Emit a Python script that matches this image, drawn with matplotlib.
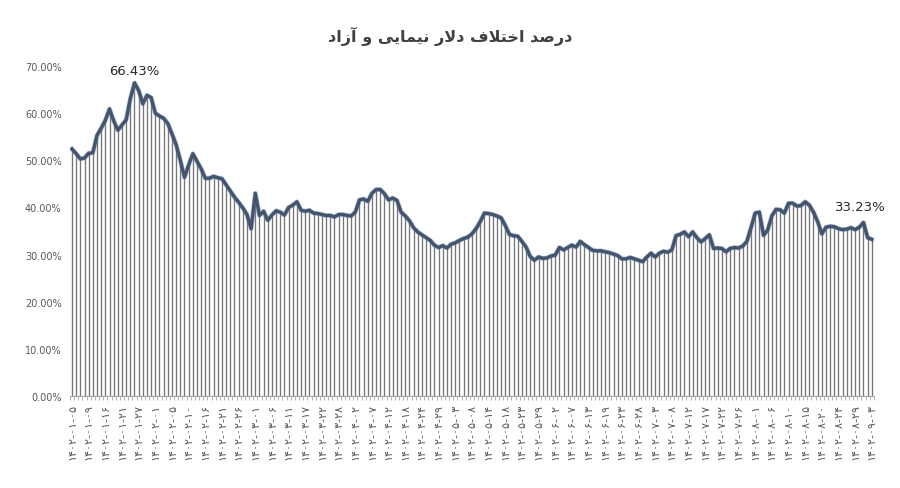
import numpy as np
import matplotlib.pyplot as plt
import matplotlib.patheffects as pe

# percentage gap, Nima dollar vs free dollar
gap_pct = [
    52.4, 51.4, 50.3, 50.5, 51.5, 51.6, 55.3, 56.8, 58.5, 60.9,
    58.4, 56.4, 57.5, 58.6, 63.1, 66.43, 64.8, 62.0, 63.8, 63.3,
    60.0, 59.4, 58.9, 57.8, 55.6, 53.3, 50.0, 46.4, 49.0, 51.4,
    49.8, 48.2, 46.2, 46.2, 46.6, 46.3, 46.1, 44.8, 43.5, 42.2,
    41.1, 39.9, 38.5, 35.5, 43.0, 38.3, 39.2, 37.3, 38.4, 39.3,
    39.0, 38.4, 40.0, 40.5, 41.2, 39.4, 39.2, 39.4, 38.8, 38.7,
    38.5, 38.3, 38.3, 38.0, 38.5, 38.5, 38.3, 38.2, 39.0, 41.6,
    41.8, 41.3, 43.0, 43.8, 43.8, 42.9, 41.6, 42.0, 41.5, 39.0,
    38.2, 37.2, 35.7, 34.8, 34.2, 33.6, 33.0, 32.0, 31.5, 31.9,
    31.4, 32.2, 32.5, 33.0, 33.4, 33.7, 34.4, 35.5, 37.0, 38.8,
    38.7, 38.5, 38.2, 37.8, 36.2, 34.3, 34.0, 33.9, 32.8, 31.6,
    29.6, 28.8, 29.5, 29.2, 29.3, 29.7, 29.9, 31.5, 31.0, 31.5,
    32.0, 31.6, 32.8, 32.1, 31.5, 30.9, 30.8, 30.8, 30.6, 30.4,
    30.1, 29.8, 29.1, 29.1, 29.4, 29.1, 28.8, 28.5, 29.5, 30.3,
    29.5, 30.3, 30.7, 30.5, 31.0, 34.0, 34.3, 34.8, 33.8, 34.8,
    33.6, 32.7, 33.4, 34.2, 31.3, 31.4, 31.3, 30.6, 31.3, 31.5,
    31.4, 31.8, 32.8, 35.7, 38.8, 39.0, 34.1, 35.2, 38.2, 39.6,
    39.5, 38.8, 40.9, 40.9, 40.3, 40.4, 41.2, 40.5, 39.0, 37.0,
    34.4, 35.8, 36.0, 35.9, 35.5, 35.3, 35.4, 35.7, 35.3, 35.8,
    36.8, 33.6, 33.23,
]

# one date label every 4th point (Persian calendar)
date_labels = [
    "۱۴۰۲-۰۱-۰۵", "۱۴۰۲-۰۱-۰۹", "۱۴۰۲-۰۱-۱۶", "۱۴۰۲-۰۱-۲۱", "۱۴۰۲-۰۱-۲۷",
    "۱۴۰۲-۰۲-۰۱", "۱۴۰۲-۰۲-۰۵", "۱۴۰۲-۰۲-۱۰", "۱۴۰۲-۰۲-۱۶", "۱۴۰۲-۰۲-۲۱",
    "۱۴۰۲-۰۲-۲۶", "۱۴۰۲-۰۳-۰۱", "۱۴۰۲-۰۳-۰۶", "۱۴۰۲-۰۳-۱۱", "۱۴۰۲-۰۳-۱۷",
    "۱۴۰۲-۰۳-۲۲", "۱۴۰۲-۰۳-۲۸", "۱۴۰۲-۰۴-۰۲", "۱۴۰۲-۰۴-۰۷", "۱۴۰۲-۰۴-۱۲",
    "۱۴۰۲-۰۴-۱۸", "۱۴۰۲-۰۴-۲۴", "۱۴۰۲-۰۴-۲۹", "۱۴۰۲-۰۵-۰۳", "۱۴۰۲-۰۵-۰۸",
    "۱۴۰۲-۰۵-۱۴", "۱۴۰۲-۰۵-۱۸", "۱۴۰۲-۰۵-۲۳", "۱۴۰۲-۰۵-۲۹", "۱۴۰۲-۰۶-۰۲",
    "۱۴۰۲-۰۶-۰۷", "۱۴۰۲-۰۶-۱۳", "۱۴۰۲-۰۶-۱۹", "۱۴۰۲-۰۶-۲۳", "۱۴۰۲-۰۶-۲۸",
    "۱۴۰۲-۰۷-۰۳", "۱۴۰۲-۰۷-۰۸", "۱۴۰۲-۰۷-۱۲", "۱۴۰۲-۰۷-۱۷", "۱۴۰۲-۰۷-۲۲",
    "۱۴۰۲-۰۷-۲۶", "۱۴۰۲-۰۸-۰۱", "۱۴۰۲-۰۸-۰۶", "۱۴۰۲-۰۸-۱۰", "۱۴۰۲-۰۸-۱۵",
    "۱۴۰۲-۰۸-۲۰", "۱۴۰۲-۰۸-۲۴", "۱۴۰۲-۰۸-۲۹", "۱۴۰۲-۰۹-۰۳",
]

# title "درصد اختلاف دلار نیمایی و آزاد" written in presentation forms,
# visual order, because matplotlib does no Arabic shaping
title_text = "ﺩﺍﺯﺁ ﻭ ﯽﯾﺎﻤﯿﻧ ﺭﻻﺩ ﻑﻼﺘﺧﺍ ﺪﺻﺭﺩ"

y = np.array(gap_pct)
x = np.arange(len(y))

fig = plt.figure(figsize=(9, 4.89), dpi=100)
ax = fig.add_axes([0.0777, 0.1881, 0.8933, 0.6748])

# drop lines
ax.vlines(x, 0, y, color="#767676", linewidth=0.95, zorder=1)
ax.plot(x, y, color="#44546A", linewidth=2.4, solid_joinstyle="round",
        zorder=3,
        path_effects=[pe.Stroke(linewidth=3.4, foreground="#5B7BB8", alpha=0.5),
                      pe.Normal()])

ax.set_xlim(-0.5, len(y) - 0.5)
ax.set_ylim(0, 70)
ax.set_yticks(np.arange(0, 71, 10))
ax.set_yticklabels([f"{v:.2f}%" for v in np.arange(0, 71, 10)])

ax.set_xticks(x[::4])
ax.set_xticklabels(date_labels, rotation=90, fontsize=8, color="#595959")
ax.set_xticks(np.arange(-0.5, len(y), 1), minor=True)
ax.tick_params(axis="x", which="major", length=0, pad=5)
ax.tick_params(axis="x", which="minor", length=3, color="#A6A6A6", width=0.6)
ax.tick_params(axis="y", length=0, labelsize=7, labelcolor="#595959", pad=6)

for s in ["top", "right", "left"]:
    ax.spines[s].set_visible(False)
ax.spines["bottom"].set_color("#A6A6A6")
ax.spines["bottom"].set_linewidth(0.8)

# data labels for peak and last value
i_peak = int(np.argmax(y))
ax.annotate(f"{y[i_peak]:.2f}%", (x[i_peak], y[i_peak]), xytext=(0, 4),
            textcoords="offset points", ha="center", va="bottom",
            fontsize=9.5, color="#262626")
ax.annotate(f"{y[-1]:.2f}%", (x[-1], y[-1]), xytext=(-8, 19),
            textcoords="offset points", ha="center", va="bottom",
            fontsize=9.5, color="#262626")

fig.text(0.5, 0.925, title_text, ha="center", va="center", fontsize=11.5,
         fontweight="bold", color="#404040", family="DejaVu Sans")

fig.savefig("out.png", dpi=100)
